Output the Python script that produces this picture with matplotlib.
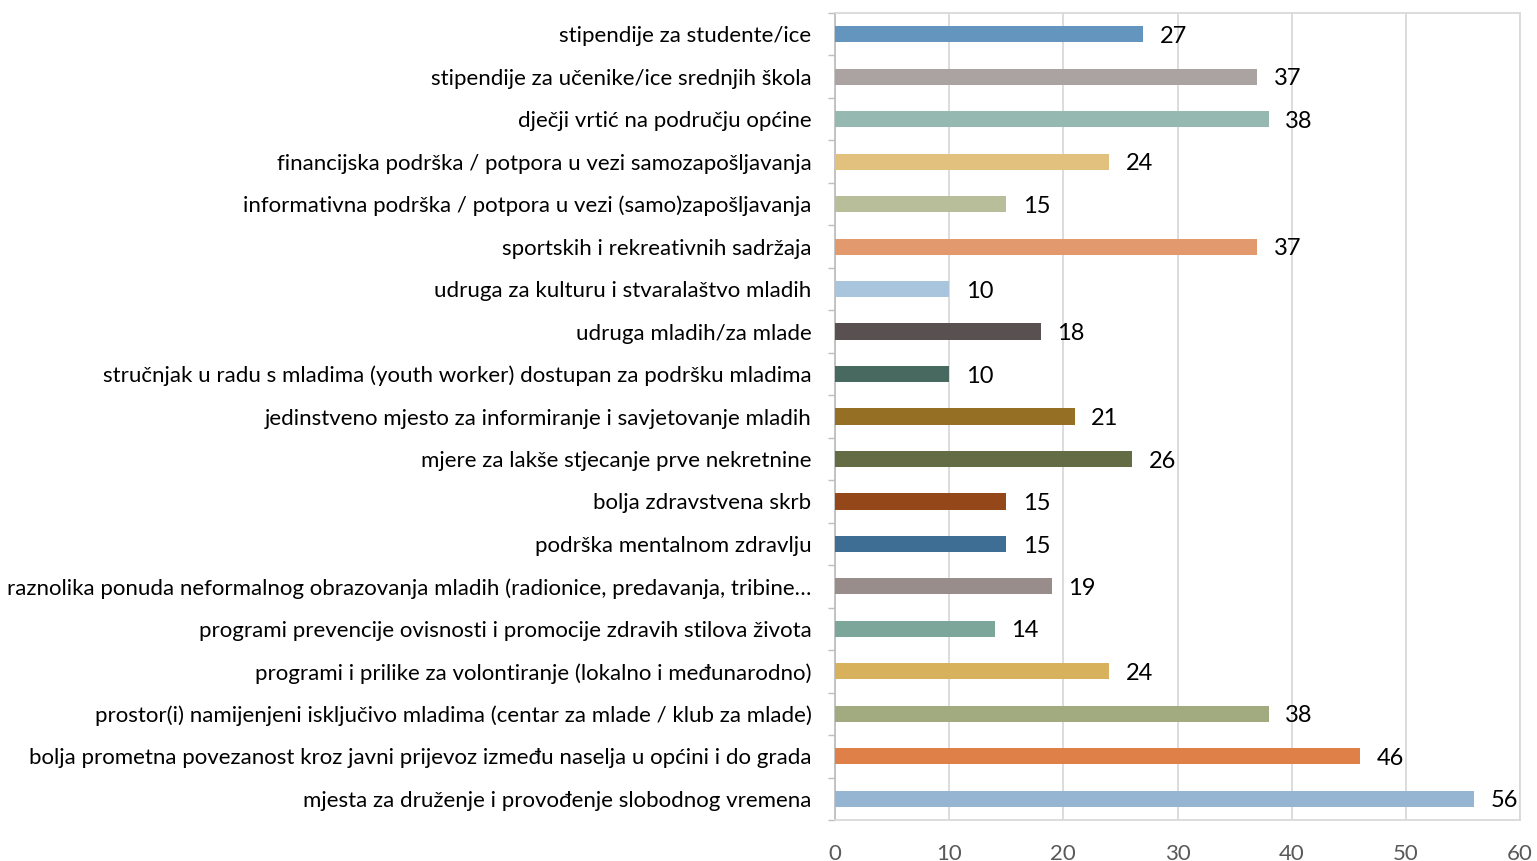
import matplotlib
matplotlib.use("Agg")
import matplotlib.pyplot as plt

# data (top to bottom as in the chart)
categories = [
    "stipendije za studente/ice",
    "stipendije za učenike/ice srednjih škola",
    "dječji vrtić na području općine",
    "financijska podrška / potpora u vezi samozapošljavanja",
    "informativna podrška / potpora u vezi (samo)zapošljavanja",
    "sportskih i rekreativnih sadržaja",
    "udruga za kulturu i stvaralaštvo mladih",
    "udruga mladih/za mlade",
    "stručnjak u radu s mladima (youth worker) dostupan za podršku mladima",
    "jedinstveno mjesto za informiranje i savjetovanje mladih",
    "mjere za lakše stjecanje prve nekretnine",
    "bolja zdravstvena skrb",
    "podrška mentalnom zdravlju",
    "raznolika ponuda neformalnog obrazovanja mladih (radionice, predavanja, tribine…",
    "programi prevencije ovisnosti i promocije zdravih stilova života",
    "programi i prilike za volontiranje (lokalno i međunarodno)",
    "prostor(i) namijenjeni isključivo mladima (centar za mlade / klub za mlade)",
    "bolja prometna povezanost kroz javni prijevoz između naselja u općini i do grada",
    "mjesta za druženje i provođenje slobodnog vremena",
]
values = [27, 37, 38, 24, 15, 37, 10, 18, 10, 21, 26, 15, 15, 19, 14, 24, 38, 46, 56]
colors = [
    "#6495BF", "#ABA2A2", "#95B8B0", "#E2C17E", "#B8BE99", "#E2996E",
    "#A9C5DD", "#595051", "#476960", "#946F24", "#646C45", "#944819",
    "#3F6E95", "#988D8B", "#7DA69B", "#D7B15B", "#A2AA7F", "#DE8047",
    "#96B5D3",
]
xticks = [0, 10, 20, 30, 40, 50, 60]

plt.rcParams["font.family"] = ["Lato", "DejaVu Sans"]

fig = plt.figure(figsize=(15.37, 8.61), dpi=100)
ax = fig.add_axes([835 / 1537, 1 - 820 / 861, 685 / 1537, 807 / 861])

pos = list(range(len(categories)))
ax.barh(pos, values, height=0.38, color=colors, zorder=3)

# value labels right of each bar
for p, v in zip(pos, values):
    ax.text(v + 1.45, p + 0.05, str(v), va="center", ha="left",
            fontsize=17, color="black", zorder=4)

ax.set_xlim(0, 60)
ax.set_ylim(len(categories) - 0.5, -0.5)
ax.set_xticks(xticks)
ax.set_xticklabels([str(t) for t in xticks], fontsize=16, color="#595959")
ax.tick_params(axis="x", length=0, pad=17)

ax.set_yticks(pos)
ax.set_yticklabels(categories, fontsize=16, color="black")
ax.tick_params(axis="y", which="major", length=0, pad=17)
ax.set_yticks([p - 0.5 for p in pos] + [len(pos) - 0.5], minor=True)
ax.tick_params(axis="y", which="minor", length=5, color="#bfbfbf", width=1)

ax.grid(axis="x", color="#d9d9d9", linewidth=1.3, zorder=0)
for side in ["top", "right", "bottom"]:
    ax.spines[side].set_color("#d9d9d9")
    ax.spines[side].set_linewidth(1.3)
ax.spines["left"].set_color("#bfbfbf")
ax.spines["left"].set_linewidth(1.3)

fig.savefig("out.png", dpi=100)
